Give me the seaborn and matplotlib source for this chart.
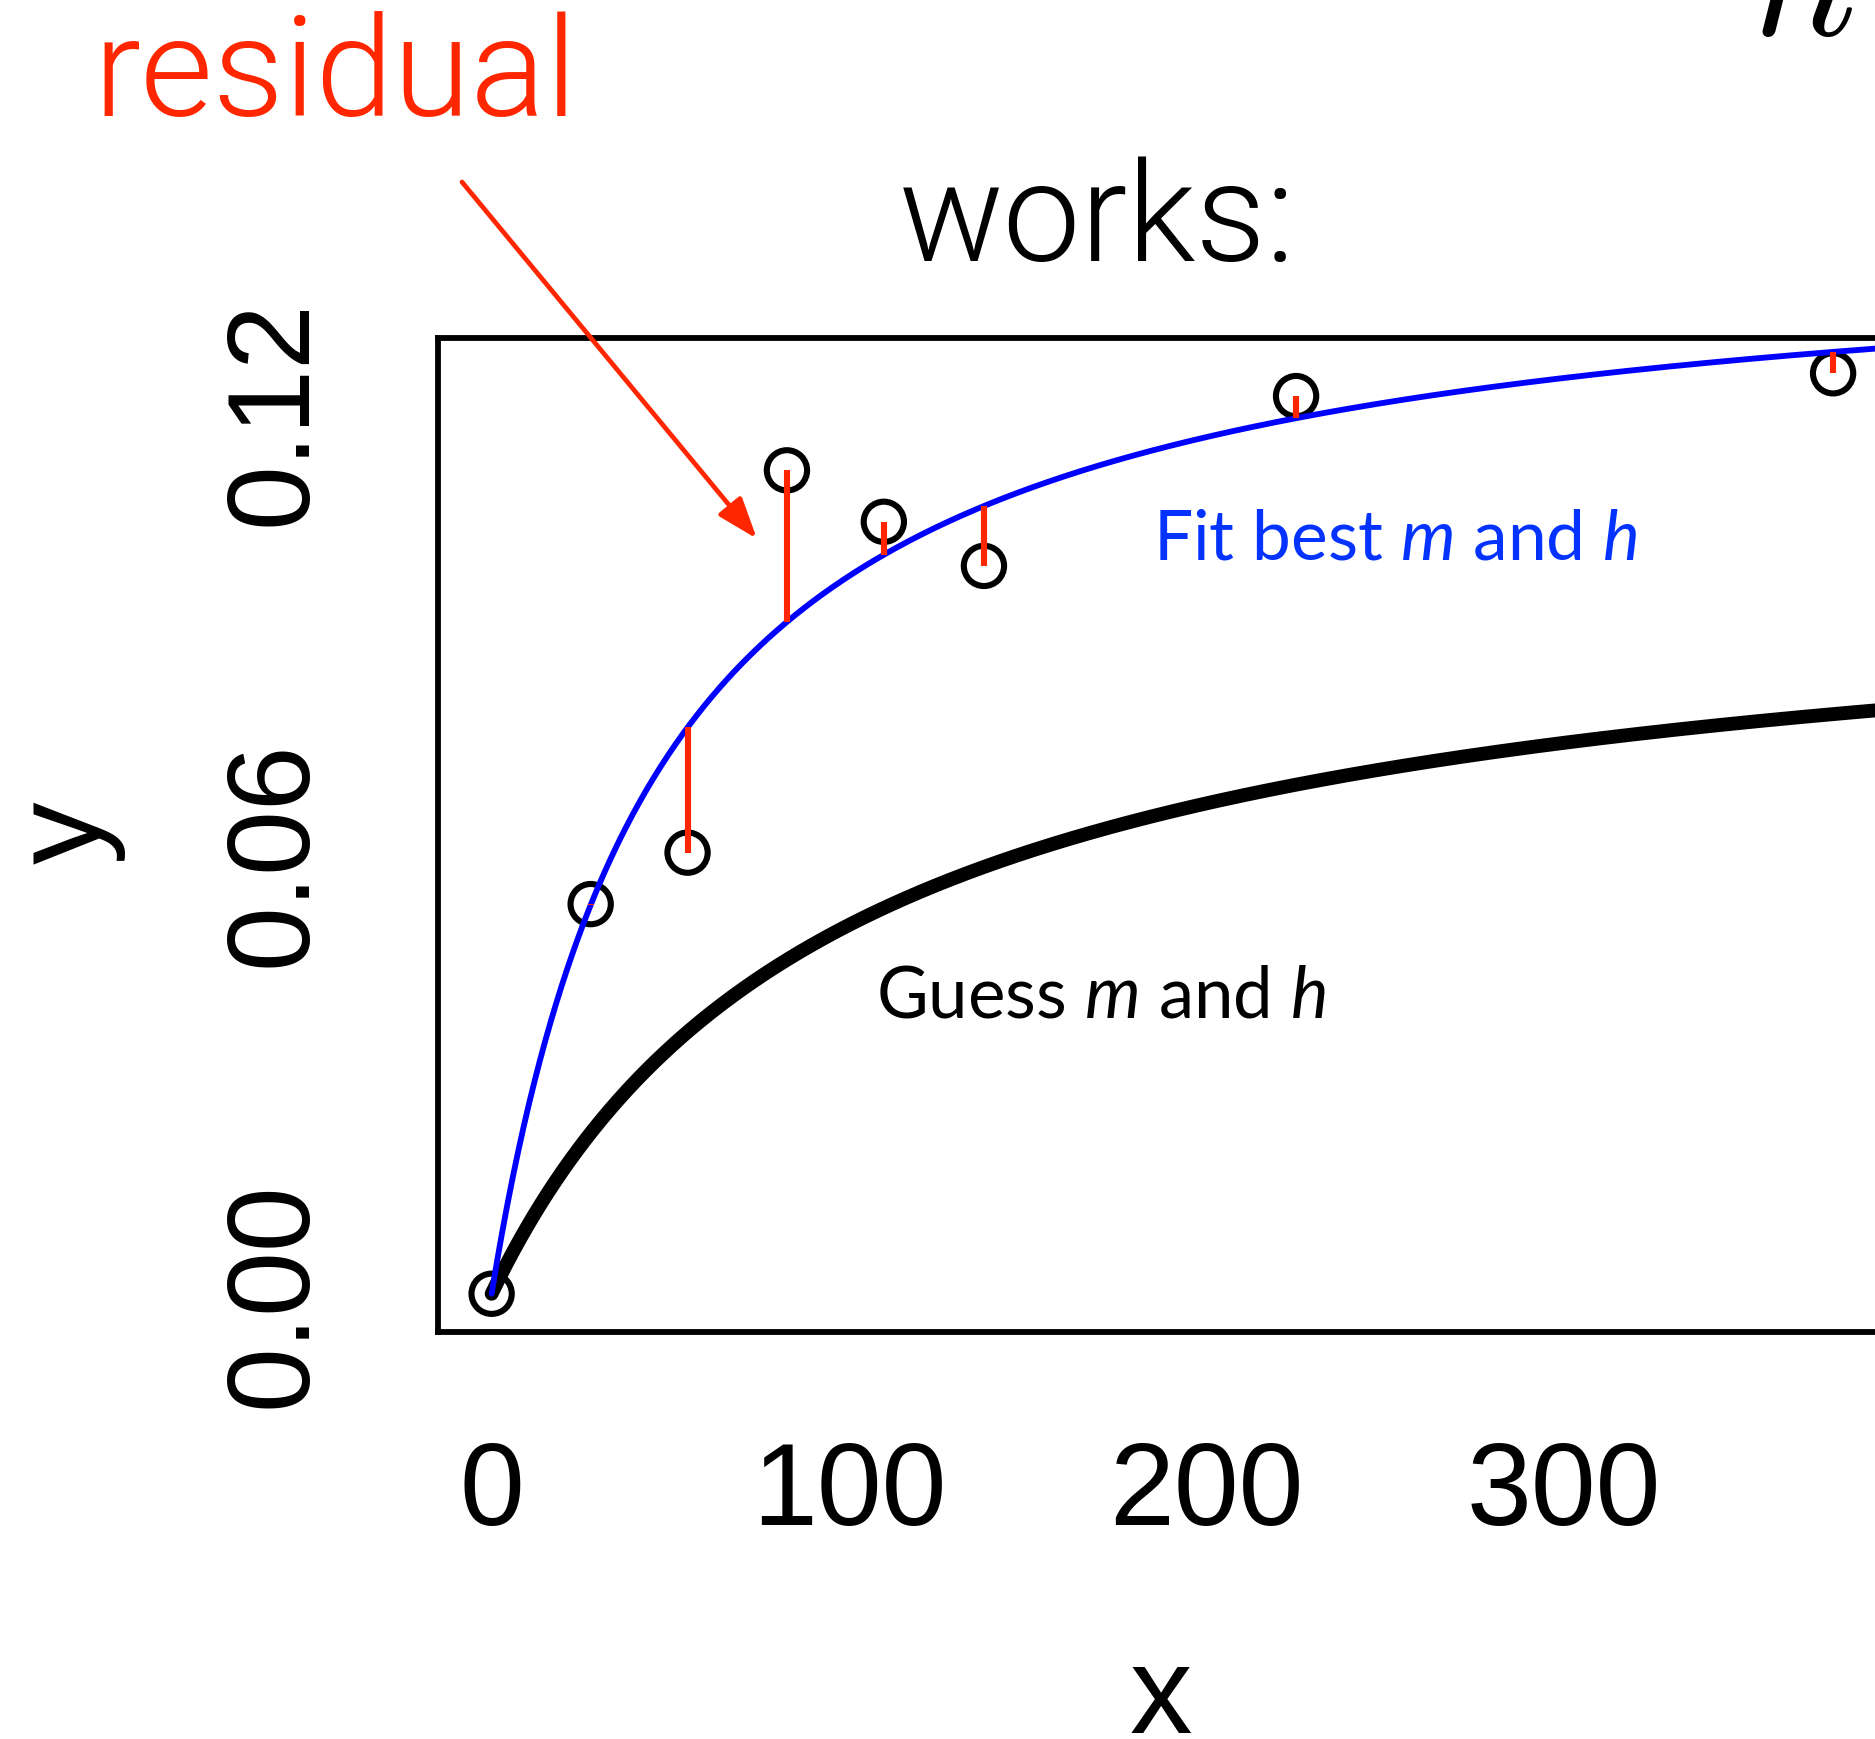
import numpy as np
import pandas as pd
import matplotlib
matplotlib.use("Agg")
import matplotlib.pyplot as plt
from matplotlib import font_manager as fm
from matplotlib.patches import ArrowStyle
import seaborn as sns

# ---------------- data ----------------
x_obs = [0.0, 27.7, 54.8, 82.6, 109.7, 137.7, 225.0, 375.2]
y_obs = [0.000, 0.0530, 0.0600, 0.1120, 0.1050, 0.0990, 0.1221, 0.1252]

# Michaelis-Menten curves y = m*x/(h+x), parameters
fit_m, fit_h = 0.1445, 48.0        # "Fit best m and h" (blue)
guess_m, guess_h = 0.0995, 98.3    # "Guess m and h" (black)

y_ticks = [0.00, 0.02, 0.04, 0.06, 0.08, 0.10, 0.12]
y_ticklabels = ["0.00", "", "", "0.06", "", "", "0.12"]
x_ticks = [0, 100, 200, 300]
x_ticklabels = ["0", "100", "200", "300"]

# ---------------- style ----------------
sns.set_style("white")
names = {f.name for f in fm.fontManager.ttflist}

def has_weight(fam, wmax=300):
    for f in fm.fontManager.ttflist:
        if f.name == fam and f.style == "normal":
            w = f.weight
            if isinstance(w, str):
                w = {"light": 300, "thin": 100, "extralight": 200, "ultralight": 200}.get(w.lower(), 400)
            if w <= wmax:
                return True
    return False

light_family = "Liberation Sans"
for fam in ["Roboto", "Lato", "Open Sans", "Inter", "Noto Sans"]:
    if has_weight(fam):
        light_family = fam
        break

humanist = "Lato" if "Lato" in names else "Open Sans"
plt.rcParams["font.family"] = ["Liberation Sans", "DejaVu Sans"]
plt.rcParams["mathtext.fontset"] = "custom"
plt.rcParams["mathtext.it"] = humanist + ":italic"
plt.rcParams["mathtext.rm"] = humanist
plt.rcParams["text.color"] = "black"
plt.rcParams["axes.labelcolor"] = "black"
plt.rcParams["xtick.color"] = "black"
plt.rcParams["ytick.color"] = "black"

RED = "#FF2600"
BLUE_TXT = "#0433FF"

W, H = 1875, 1740
fig = plt.figure(figsize=(W / 100, H / 100), dpi=100)
fig.patch.set_facecolor("white")

def fx(px):
    return px / W

def fy(py):
    return 1 - py / H

ax = fig.add_axes([0.23360, 0.23391, 0.77227, 0.57126])
ax.set_facecolor("white")

# points
pts = pd.DataFrame({"x": x_obs, "y": y_obs})
sns.scatterplot(data=pts, x="x", y="y", ax=ax, s=29 ** 2, marker="o",
                facecolor="none", edgecolor="black", linewidth=4.4, zorder=2,
                legend=False)

# curves
xs = np.linspace(0, 400, 801)
curves = pd.DataFrame({
    "x": xs,
    "fit": fit_m * xs / (fit_h + xs),
    "guess": guess_m * xs / (guess_h + xs),
})
sns.lineplot(data=curves, x="x", y="guess", ax=ax, color="black", lw=10.0,
             estimator=None, sort=False, zorder=3, solid_capstyle="round")
sns.lineplot(data=curves, x="x", y="fit", ax=ax, color="#0000FF", lw=4.2,
             estimator=None, sort=False, zorder=4)

# residuals
x_arr = np.array(x_obs)
y_fit = fit_m * x_arr / (fit_h + x_arr)
ax.vlines(x_arr, y_obs, y_fit, color=RED, lw=4.4, zorder=5)

ax.set_xlim(-15, 390)
ax.set_ylim(-0.0052, 0.130)
ax.set_xticks(x_ticks)
ax.set_xticklabels(x_ticklabels)
ax.set_yticks(y_ticks)
ax.set_yticklabels(y_ticklabels, rotation=90, va="center")
ax.tick_params(axis="both", direction="out", length=40, width=4.2,
               color="black", labelsize=84, labelcolor="black")
ax.tick_params(axis="x", pad=37)
ax.tick_params(axis="y", pad=38)
ax.set_xlabel("")
ax.set_ylabel("")
for sp in ax.spines.values():
    sp.set_visible(True)
    sp.set_color("black")
    sp.set_linewidth(4.2)

# axis labels
fig.text(fx(1161), fy(1733), "x", fontsize=90, ha="center", va="baseline",
         color="black")
fig.text(fx(100), fy(833), "y", fontsize=90, ha="center", va="baseline",
         rotation=90, rotation_mode="anchor", color="black")

# in-plot labels
ax.text(185, 0.1000, "Fit best $m$ and $h$", fontsize=50, color=BLUE_TXT,
        ha="left", va="baseline", family=humanist)
ax.text(107.5, 0.0377, "Guess $m$ and $h$", fontsize=51, color="black",
        ha="left", va="baseline", family=humanist)

# title-like texts
fig.text(fx(1097), fy(261), "works:", fontsize=100, ha="center", va="baseline",
         family=light_family, fontweight=300, color="black")
fig.text(fx(93), fy(116), "residual", fontsize=101, ha="left", va="baseline",
         color=RED, family=light_family, fontweight=300)
fig.text(fx(1752), fy(35), "$h$", fontsize=130, ha="left", va="baseline",
         math_fontfamily="cm", color="black")

# arrow
ax.annotate("", xy=(74.2, 0.1027), xycoords="data",
            xytext=(fx(462), fy(183)), textcoords="figure fraction",
            annotation_clip=False,
            arrowprops=dict(arrowstyle=ArrowStyle("-|>", head_length=25, head_width=9),
                            mutation_scale=1, color=RED, lw=3.4,
                            shrinkA=0, shrinkB=0), zorder=6)

fig.savefig("out.png", dpi=100)
